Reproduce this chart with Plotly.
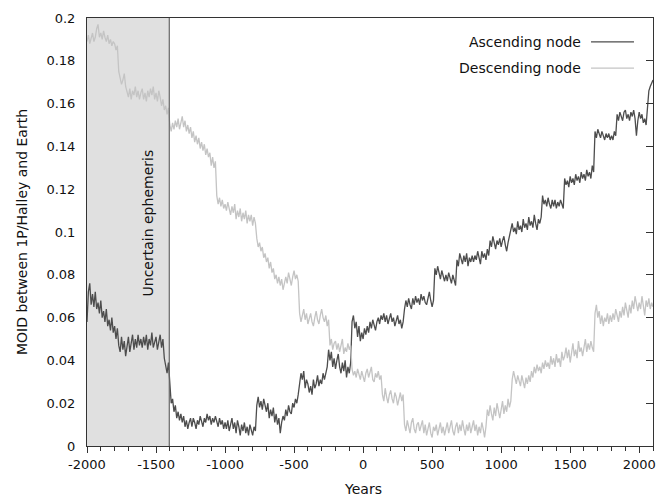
import plotly.graph_objects as go

years = list(range(-2000, 2101, 10))

ascending = [
    0.058, 0.072, 0.076, 0.066, 0.071, 0.065, 0.072, 0.064, 0.067, 0.062, 0.068, 0.060, 0.063, 0.058, 0.064, 0.056, 0.059, 0.054, 0.060, 0.053,
    0.056, 0.050, 0.055, 0.047, 0.044, 0.051, 0.045, 0.049, 0.042, 0.048, 0.051, 0.044, 0.048, 0.052, 0.045, 0.050, 0.046, 0.052, 0.047, 0.050,
    0.046, 0.051, 0.047, 0.052, 0.045, 0.050, 0.047, 0.053, 0.046, 0.049, 0.051, 0.045, 0.049, 0.052, 0.046, 0.050, 0.041, 0.037, 0.034, 0.039,
    0.026, 0.020, 0.022, 0.016, 0.019, 0.013, 0.016, 0.012, 0.015, 0.011, 0.014, 0.009, 0.012, 0.008, 0.011, 0.013, 0.009, 0.013, 0.011, 0.008,
    0.012, 0.010, 0.014, 0.011, 0.009, 0.013, 0.011, 0.015, 0.012, 0.014, 0.010, 0.013, 0.011, 0.014, 0.012, 0.009, 0.013, 0.010, 0.012, 0.008,
    0.011, 0.008, 0.012, 0.007, 0.010, 0.013, 0.008, 0.011, 0.006, 0.012, 0.009, 0.005, 0.010, 0.007, 0.011, 0.006, 0.009, 0.005, 0.010, 0.007,
    0.005, 0.009, 0.007, 0.019, 0.023, 0.018, 0.021, 0.017, 0.022, 0.019, 0.016, 0.020, 0.013, 0.017, 0.014, 0.018, 0.011, 0.015, 0.010, 0.013,
    0.006, 0.011, 0.014, 0.012, 0.017, 0.014, 0.019, 0.016, 0.015, 0.020, 0.018, 0.022, 0.020, 0.024, 0.030, 0.034, 0.031, 0.035, 0.027, 0.031,
    0.029, 0.025, 0.028, 0.024, 0.031, 0.027, 0.029, 0.033, 0.028, 0.031, 0.029, 0.034, 0.031, 0.035, 0.037, 0.045, 0.040, 0.044, 0.037, 0.041,
    0.036, 0.040, 0.043, 0.037, 0.034, 0.039, 0.035, 0.040, 0.032, 0.037, 0.034, 0.039, 0.058, 0.061, 0.055, 0.058, 0.051, 0.056, 0.049, 0.053,
    0.050, 0.055, 0.052, 0.056, 0.053, 0.058, 0.055, 0.059, 0.057, 0.054, 0.058, 0.060, 0.057, 0.061, 0.059, 0.062, 0.058, 0.061, 0.057, 0.060,
    0.062, 0.058, 0.060, 0.056, 0.059, 0.061, 0.057, 0.059, 0.055, 0.058, 0.064, 0.068, 0.065, 0.069, 0.066, 0.064, 0.069, 0.066, 0.070, 0.067,
    0.069, 0.066, 0.071, 0.068, 0.070, 0.067, 0.066, 0.070, 0.072, 0.068, 0.065, 0.068, 0.083, 0.080, 0.084, 0.081, 0.078, 0.082, 0.080, 0.077,
    0.080, 0.077, 0.081, 0.078, 0.076, 0.080, 0.078, 0.075, 0.087, 0.084, 0.090, 0.087, 0.085, 0.089, 0.086, 0.090, 0.084, 0.088, 0.086, 0.089,
    0.086, 0.089, 0.087, 0.091, 0.088, 0.085, 0.091, 0.088, 0.090, 0.087, 0.092, 0.089, 0.096, 0.093, 0.098, 0.095, 0.092, 0.096, 0.094, 0.097,
    0.093, 0.096, 0.098, 0.094, 0.091, 0.095, 0.098, 0.102, 0.104, 0.100, 0.102, 0.099, 0.105, 0.101, 0.103, 0.100, 0.106, 0.102, 0.104, 0.101,
    0.107, 0.103, 0.105, 0.102, 0.108, 0.104, 0.101, 0.106, 0.104, 0.107, 0.117, 0.113, 0.115, 0.112, 0.116, 0.113, 0.111, 0.115, 0.112, 0.115,
    0.111, 0.114, 0.112, 0.115, 0.113, 0.111, 0.125, 0.122, 0.124, 0.121, 0.126, 0.123, 0.125, 0.122, 0.127, 0.124, 0.126, 0.123, 0.128, 0.125,
    0.127, 0.124, 0.129, 0.126, 0.128, 0.125, 0.131, 0.128, 0.147, 0.144, 0.148, 0.146, 0.144, 0.147, 0.145, 0.143, 0.146, 0.144, 0.146, 0.143,
    0.145, 0.143, 0.147, 0.145, 0.155, 0.152, 0.156, 0.154, 0.152, 0.156, 0.157, 0.153, 0.155, 0.152, 0.156, 0.154, 0.157, 0.153, 0.145, 0.152,
    0.156, 0.153, 0.155, 0.151, 0.153, 0.150, 0.160, 0.166, 0.168, 0.170, 0.171,
]

descending = [
    0.189, 0.192, 0.188, 0.191, 0.193, 0.189, 0.191, 0.195, 0.197, 0.191, 0.193, 0.190, 0.194, 0.191, 0.189, 0.192, 0.188, 0.190, 0.187, 0.189,
    0.188, 0.185, 0.187, 0.175, 0.172, 0.169, 0.171, 0.174, 0.168, 0.165, 0.163, 0.167, 0.162, 0.166, 0.164, 0.168, 0.163, 0.166, 0.162, 0.165,
    0.167, 0.162, 0.165, 0.161, 0.166, 0.163, 0.167, 0.164, 0.168, 0.162, 0.165, 0.161, 0.166, 0.163, 0.159, 0.162, 0.157, 0.159, 0.155, 0.158,
    0.150, 0.147, 0.151, 0.148, 0.152, 0.149, 0.153, 0.148, 0.151, 0.154, 0.149, 0.152, 0.147, 0.150, 0.146, 0.149, 0.144, 0.147, 0.142, 0.145,
    0.141, 0.144, 0.139, 0.142, 0.138, 0.141, 0.136, 0.139, 0.135, 0.137, 0.131, 0.135, 0.130, 0.133, 0.117, 0.113, 0.116, 0.112, 0.115, 0.111,
    0.113, 0.110, 0.114, 0.111, 0.108, 0.112, 0.109, 0.113, 0.106, 0.110, 0.107, 0.111, 0.105, 0.109, 0.106, 0.110, 0.104, 0.108, 0.105, 0.108,
    0.103, 0.107, 0.104, 0.097, 0.093, 0.095, 0.091, 0.093, 0.088, 0.090, 0.086, 0.088, 0.083, 0.086, 0.081, 0.083, 0.078, 0.080, 0.076, 0.079,
    0.075, 0.078, 0.073, 0.076, 0.079, 0.076, 0.081, 0.078, 0.075, 0.079, 0.082, 0.078, 0.080, 0.077, 0.062, 0.058, 0.061, 0.064, 0.059, 0.062,
    0.057, 0.060, 0.062, 0.058, 0.056, 0.060, 0.063, 0.059, 0.057, 0.061, 0.064, 0.060, 0.058, 0.061, 0.056, 0.059, 0.047, 0.050, 0.045, 0.048,
    0.049, 0.045, 0.048, 0.044, 0.047, 0.050, 0.043, 0.046, 0.044, 0.048, 0.045, 0.047, 0.036, 0.033, 0.035, 0.032, 0.036, 0.033, 0.031, 0.035,
    0.033, 0.030, 0.034, 0.036, 0.032, 0.035, 0.037, 0.031, 0.030, 0.034, 0.032, 0.035, 0.031, 0.033, 0.024, 0.021, 0.027, 0.023, 0.020, 0.024,
    0.026, 0.022, 0.020, 0.025, 0.023, 0.019, 0.022, 0.025, 0.021, 0.024, 0.010, 0.007, 0.012, 0.008, 0.006, 0.011, 0.013, 0.008, 0.006, 0.010,
    0.011, 0.007, 0.009, 0.012, 0.006, 0.010, 0.005, 0.008, 0.011, 0.006, 0.004, 0.009, 0.007, 0.010, 0.005, 0.008, 0.011, 0.006, 0.009, 0.005,
    0.008, 0.011, 0.006, 0.009, 0.012, 0.007, 0.005, 0.009, 0.011, 0.006, 0.010, 0.007, 0.012, 0.008, 0.005, 0.010, 0.007, 0.011, 0.006, 0.009,
    0.012, 0.007, 0.010, 0.005, 0.009, 0.006, 0.011, 0.008, 0.004, 0.009, 0.017, 0.014, 0.019, 0.015, 0.012, 0.018, 0.014, 0.020, 0.016, 0.013,
    0.017, 0.021, 0.015, 0.019, 0.016, 0.022, 0.018, 0.021, 0.031, 0.035, 0.032, 0.029, 0.033, 0.030, 0.028, 0.033, 0.030, 0.027, 0.032, 0.029,
    0.033, 0.030, 0.035, 0.032, 0.037, 0.034, 0.038, 0.035, 0.037, 0.034, 0.039, 0.036, 0.040, 0.037, 0.039, 0.036, 0.042, 0.038, 0.041, 0.037,
    0.043, 0.039, 0.041, 0.037, 0.044, 0.040, 0.042, 0.046, 0.041, 0.045, 0.039, 0.043, 0.048, 0.042, 0.045, 0.041, 0.049, 0.044, 0.046, 0.042,
    0.047, 0.050, 0.044, 0.048, 0.045, 0.049, 0.046, 0.044, 0.062, 0.066, 0.060, 0.063, 0.057, 0.061, 0.056, 0.060, 0.058, 0.062, 0.057, 0.061,
    0.058, 0.062, 0.059, 0.064, 0.061, 0.058, 0.063, 0.060, 0.065, 0.061, 0.067, 0.063, 0.060, 0.066, 0.062, 0.068, 0.064, 0.070, 0.066, 0.063,
    0.067, 0.064, 0.070, 0.066, 0.061, 0.068, 0.065, 0.069, 0.064, 0.067, 0.065,
]

series_names = ["Ascending node", "Descending node"]
uncertain_until = -1404
uncertain_label = "Uncertain ephemeris"
x_title = "Years"
y_title = "MOID between 1P/Halley and Earth"

x_tick_vals = [-2000, -1500, -1000, -500, 0, 500, 1000, 1500, 2000]
x_tick_text = ["-2000", "-1500", "-1000", "-500", "0", "500", "1000", "1500", "2000"]
y_tick_vals = [0, 0.02, 0.04, 0.06, 0.08, 0.1, 0.12, 0.14, 0.16, 0.18, 0.2]
y_tick_text = ["0", "0.02", "0.04", "0.06", "0.08", "0.1", "0.12", "0.14", "0.16", "0.18", "0.2"]

DARK = "#4d4d4d"
LIGHT = "#c4c4c4"
AXIS = "#333333"
FONT = "DejaVu Sans"
TXT = "#111111"

fig = go.Figure()
fig.add_trace(go.Scatter(x=years, y=ascending, mode="lines", name=series_names[0],
                         line=dict(color=DARK, width=1.3), showlegend=False))
fig.add_trace(go.Scatter(x=years, y=descending, mode="lines", name=series_names[1],
                         line=dict(color=LIGHT, width=1.3), showlegend=False))

# shaded uncertain region + boundary line
fig.add_shape(type="rect", xref="x", yref="paper", x0=-2000, x1=uncertain_until, y0=0, y1=1,
              fillcolor="#e0e0e0", line=dict(width=0), layer="below")
fig.add_shape(type="line", xref="x", yref="paper", x0=uncertain_until, x1=uncertain_until, y0=0, y1=1,
              line=dict(color="#666666", width=1.2))

fig.add_annotation(x=-1558, y=0.104, xref="x", yref="y", text=uncertain_label, textangle=-90,
                   showarrow=False, font=dict(family=FONT, size=14, color=TXT))

# legend (gnuplot style: text then line sample)
legend_rows = [(0.944, DARK), (0.883, LIGHT)]
for name, (py, col) in zip(series_names, legend_rows):
    fig.add_annotation(x=0.876, y=py, xref="paper", yref="paper", text=name, showarrow=False,
                       xanchor="right", yanchor="middle", font=dict(family=FONT, size=14, color=TXT))
    fig.add_shape(type="line", xref="paper", yref="paper", x0=0.8905, x1=0.9664, y0=py, y1=py,
                  line=dict(color=col, width=1.2))

# axis titles
fig.add_annotation(x=0.4876, y=-0.101, xref="paper", yref="paper", text=x_title, showarrow=False,
                   xanchor="center", yanchor="middle", font=dict(family=FONT, size=14, color=TXT))
fig.add_annotation(x=-0.1148, y=0.5, xref="paper", yref="paper", text=y_title, showarrow=False,
                   textangle=-90, xanchor="center", yanchor="middle", font=dict(family=FONT, size=14, color=TXT))

# page body has an 8px margin, so the figure is 8px smaller and shifted
fig.update_layout(
    width=660, height=489,
    margin=dict(l=79, r=15, t=10, b=51),
    paper_bgcolor="white", plot_bgcolor="white",
    font=dict(family=FONT, size=13, color=TXT),
    xaxis=dict(range=[-2000, 2100], tickvals=x_tick_vals, ticktext=x_tick_text,
               ticks="outside", ticklen=6, tickcolor=AXIS, tickwidth=1,
               minor=dict(dtick=100, tick0=-2000, ticks="outside", ticklen=4, tickcolor=AXIS, showgrid=False),
               showline=True, linecolor=AXIS, linewidth=1, mirror=True,
               showgrid=False, zeroline=False, automargin=False),
    yaxis=dict(range=[0, 0.2], tickvals=y_tick_vals, ticktext=y_tick_text,
               ticks="", ticklabelstandoff=8,
               showline=True, linecolor=AXIS, linewidth=1, mirror=True,
               showgrid=False, zeroline=False, automargin=False),
    yaxis2=dict(range=[0, 0.2], tickvals=y_tick_vals, overlaying="y", side="right",
                ticks="inside", ticklen=7, tickcolor=AXIS, showticklabels=False,
                showgrid=False, zeroline=False, showline=False, automargin=False),
)
# empty trace to activate right-side mirrored ticks
fig.add_trace(go.Scatter(x=[None], y=[None], yaxis="y2", showlegend=False, hoverinfo="skip"))

fig.write_html("out.html")
